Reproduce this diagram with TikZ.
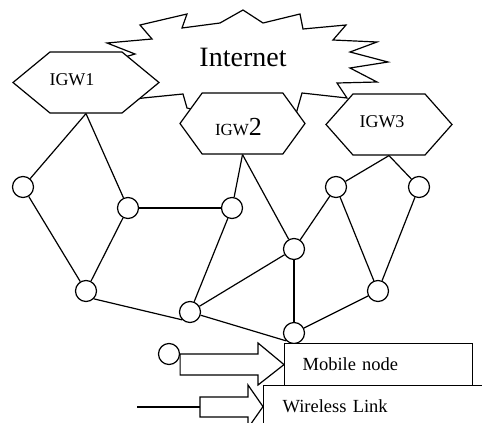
\documentclass[tikz,border=0pt]{standalone}
\usepackage{fontspec}
\setmainfont{Liberation Serif}
\usetikzlibrary{shapes.symbols}

\tikzset{
  gw/.style={draw, fill=white, signal, signal to=east and west, inner sep=0pt,
    minimum height=61pt},
  mesh/.style={draw, fill=white, circle, minimum size=21pt, inner sep=0pt},
  legendbox/.style={draw, fill=white, rectangle, minimum height=42pt,
    inner ysep=0pt, align=left, font=\fontsize{18.5}{20}\selectfont}
}

\begin{document}
\begin{tikzpicture}[x=1pt, y=-1pt, line width=1.2pt, line join=miter]
\useasboundingbox (0,0) rectangle (482,423);
\clip (0,0) rectangle (482,423);
% the cloud
\draw[fill=white]
(243,10) -- (263,23) -- (300,14) -- (303,29) -- (346,25) -- (333,40)
-- (377,42) -- (350,52) -- (388,62) -- (350,68) -- (377,82) -- (337,83)
-- (347,98) -- (302,93) -- (296,114) -- (250,112) -- (195,110) -- (187,108)
-- (183,94) -- (143,98) -- (130,100) -- (125,57) -- (135,54) -- (107,43)
-- (152,39) -- (140,25) -- (187,14) -- (182,28) -- (220,23) -- cycle;
\node (inet) at (243,57) {\fontsize{28}{30}\selectfont Internet};
% gateways
\node[gw, minimum width=146pt, signal pointer angle=79,
  label={[xshift=-14pt, yshift=3pt]center:\fontsize{18}{20}\selectfont IGW1}]
  (igw1) at (86,82.5) {};
\node[gw, minimum width=125pt, signal pointer angle=108,
  label={[xshift=-4pt, yshift=-4pt]center:{\fontsize{17}{20}\selectfont IGW\fontsize{26}{28}\selectfont 2}}]
  (igw2) at (242.5,123.5) {};
\node[gw, minimum width=126pt, signal pointer angle=97,
  label={[xshift=-7pt, yshift=3pt]center:\fontsize{18}{20}\selectfont IGW3}]
  (igw3) at (389,124.5) {};
% mesh routers
\coordinate (p1) at (23,187);
\coordinate (p2) at (128,208);
\coordinate (p3) at (232,208);
\coordinate (p4) at (336,187);
\coordinate (p5) at (419,187);
\coordinate (p6) at (294,249);
\coordinate (p7) at (86,291);
\coordinate (p8) at (378,291);
\coordinate (p9) at (190,312);
\coordinate (p10) at (294,333);
\foreach \i in {1,...,10}
  \node[mesh] (m\i) at (p\i) {};
% links
\draw (igw1.south) -- (m1);
\draw (igw1.south) -- (m2);
\draw (m1) -- (m7);
\draw (m2) -- (m7);
\draw (m2) -- (m3);
\draw (igw2.south) -- (m3);
\draw (igw2.south) -- (m6);
\draw (m3) -- (m9);
\draw (m6) -- (m9);
\draw (m6) -- (m10);
\draw (m6) -- (m4);
\draw (igw3.south) -- (m4);
\draw (igw3.south) -- (m5);
\draw (m4) -- (m8);
\draw (m5) -- (m8);
\draw (m8) -- (m10);
\draw (m7.-45) -- (m9.-135);
\draw (m9) -- (m10.south west);
% legend
\node[legendbox, anchor=north west, minimum width=240pt, text width=202pt,
  inner xsep=19pt] (wireless) at (263,385) {Wireless Link};
\node[legendbox, anchor=north west, minimum width=188pt, text width=152pt,
  inner xsep=18pt] (mobile) at (284,343) {Mobile node};
\node[mesh] (mn) at (169,354) {};
\coordinate (wl) at (137,407);
% block arrows
\draw[fill=white] (mn.east) -- (258,354) -- (258,343) -- (mobile.west)
-- (258,385) -- (258,375) -- (mn.east |- 0,375) -- cycle;
\draw (wl) -- (200,407);
\draw[fill=white] (200,397) -- (248,397) -- (248,385) -- (wireless.west)
-- (248,428) -- (248,417) -- (200,417) -- cycle;
\end{tikzpicture}
\end{document}
